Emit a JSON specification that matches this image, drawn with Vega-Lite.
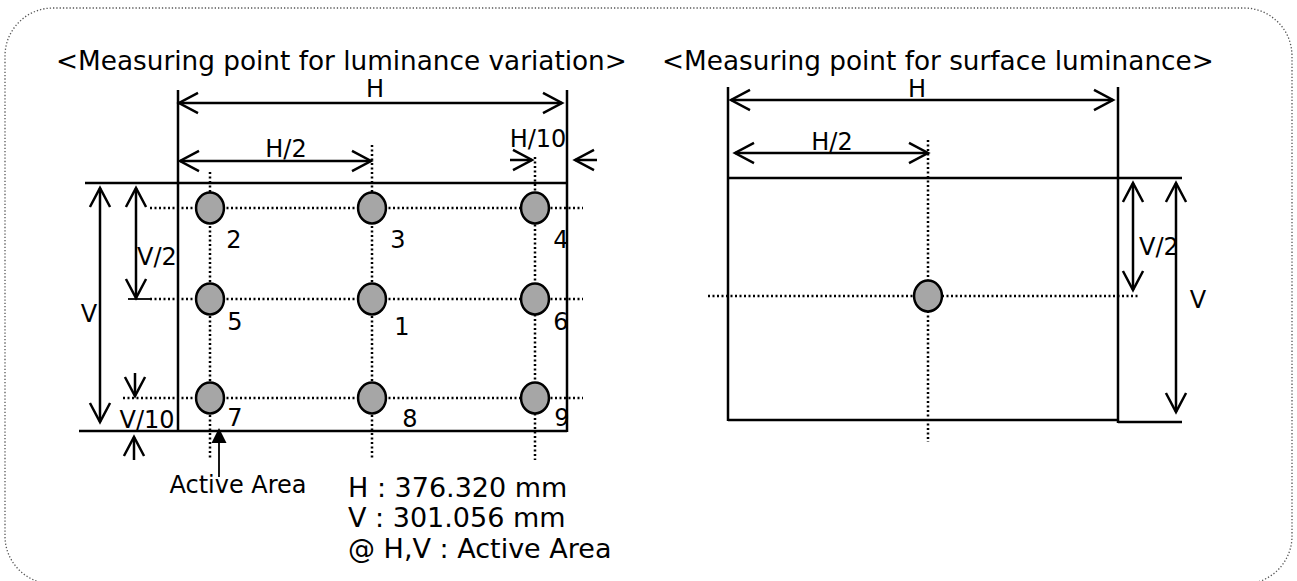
{
  "$schema": "https://vega.github.io/schema/vega-lite/v6.json",
  "width": 1297,
  "height": 581,
  "autosize": {"type": "none"},
  "padding": 0,
  "background": "white",
  "config": {"view": {"stroke": null}},
  "datasets": {
    "border": [{"x": 5, "y": 8, "x2": 1292, "y2": 584}],
    "dotted": [
      {"x": 150, "y": 208, "x2": 583, "y2": 208},
      {"x": 150, "y": 299, "x2": 583, "y2": 299},
      {"x": 123, "y": 398, "x2": 583, "y2": 398},
      {"x": 210, "y": 172, "x2": 210, "y2": 460},
      {"x": 372, "y": 145, "x2": 372, "y2": 460},
      {"x": 535, "y": 157, "x2": 535, "y2": 460},
      {"x": 708, "y": 296, "x2": 1138, "y2": 296},
      {"x": 928, "y": 140, "x2": 928, "y2": 442}
    ],
    "solid": [
      {"x": 178, "y": 90, "x2": 178, "y2": 432},
      {"x": 567, "y": 90, "x2": 567, "y2": 432},
      {"x": 85, "y": 183, "x2": 567, "y2": 183},
      {"x": 79, "y": 431, "x2": 567, "y2": 431},
      {"x": 728, "y": 87, "x2": 728, "y2": 421},
      {"x": 1118, "y": 87, "x2": 1118, "y2": 423},
      {"x": 728, "y": 178, "x2": 1182, "y2": 178},
      {"x": 728, "y": 420, "x2": 1118, "y2": 420},
      {"x": 1118, "y": 422, "x2": 1182, "y2": 422},
      {"x": 179, "y": 103, "x2": 562, "y2": 103},
      {"x": 180, "y": 161, "x2": 371, "y2": 161},
      {"x": 510, "y": 160, "x2": 532, "y2": 160},
      {"x": 575, "y": 160, "x2": 597, "y2": 160},
      {"x": 100, "y": 188, "x2": 100, "y2": 422},
      {"x": 136, "y": 188, "x2": 136, "y2": 298},
      {"x": 135, "y": 373, "x2": 135, "y2": 396},
      {"x": 134, "y": 437, "x2": 134, "y2": 460},
      {"x": 731, "y": 100, "x2": 1113, "y2": 100},
      {"x": 735, "y": 153, "x2": 928, "y2": 153},
      {"x": 1133, "y": 183, "x2": 1133, "y2": 290},
      {"x": 1176, "y": 183, "x2": 1176, "y2": 412}
    ],
    "thin": [
      {"x": 128, "y": 299, "x2": 150, "y2": 299},
      {"x": 219, "y": 443, "x2": 219, "y2": 477}
    ],
    "heads": [
      {"x": 179, "y": 103, "dir": "left"},
      {"x": 562, "y": 103, "dir": "right"},
      {"x": 180, "y": 161, "dir": "left"},
      {"x": 371, "y": 161, "dir": "right"},
      {"x": 532, "y": 160, "dir": "right"},
      {"x": 575, "y": 160, "dir": "left"},
      {"x": 100, "y": 188, "dir": "up"},
      {"x": 100, "y": 422, "dir": "down"},
      {"x": 136, "y": 188, "dir": "up"},
      {"x": 136, "y": 298, "dir": "down"},
      {"x": 135, "y": 396, "dir": "down"},
      {"x": 134, "y": 437, "dir": "up"},
      {"x": 731, "y": 100, "dir": "left"},
      {"x": 1113, "y": 100, "dir": "right"},
      {"x": 735, "y": 153, "dir": "left"},
      {"x": 928, "y": 153, "dir": "right"},
      {"x": 1133, "y": 183, "dir": "up"},
      {"x": 1133, "y": 290, "dir": "down"},
      {"x": 1176, "y": 183, "dir": "up"},
      {"x": 1176, "y": 412, "dir": "down"}
    ],
    "pointer": [{"x": 219, "y": 435.5}],
    "circles": [
      {"x": 210, "y": 208, "n": 2},
      {"x": 372, "y": 208, "n": 3},
      {"x": 535, "y": 208, "n": 4},
      {"x": 210, "y": 299, "n": 5},
      {"x": 372, "y": 299, "n": 1},
      {"x": 535, "y": 299, "n": 6},
      {"x": 210, "y": 398, "n": 7},
      {"x": 372, "y": 398, "n": 8},
      {"x": 535, "y": 398, "n": 9},
      {"x": 928, "y": 296, "n": 0}
    ],
    "labels": [
      {"x": 375, "y": 97, "t": "H"},
      {"x": 286, "y": 157, "t": "H/2"},
      {"x": 538, "y": 147, "t": "H/10"},
      {"x": 89, "y": 322, "t": "V"},
      {"x": 157, "y": 265, "t": "V/2"},
      {"x": 147, "y": 428, "t": "V/10"},
      {"x": 234, "y": 248, "t": "2"},
      {"x": 398, "y": 248, "t": "3"},
      {"x": 561, "y": 248, "t": "4"},
      {"x": 235, "y": 330, "t": "5"},
      {"x": 402, "y": 335, "t": "1"},
      {"x": 561, "y": 330, "t": "6"},
      {"x": 235, "y": 426, "t": "7"},
      {"x": 410, "y": 427, "t": "8"},
      {"x": 562, "y": 426, "t": "9"},
      {"x": 238, "y": 493, "t": "Active Area"},
      {"x": 917, "y": 97, "t": "H"},
      {"x": 832, "y": 150, "t": "H/2"},
      {"x": 1159, "y": 255, "t": "V/2"},
      {"x": 1198, "y": 308, "t": "V"}
    ],
    "titles": [
      {"x": 56, "y": 70, "t": "<Measuring point for luminance variation>"},
      {"x": 662, "y": 70, "t": "<Measuring point for surface luminance>"}
    ],
    "notes": [
      {"x": 348, "y": 497, "t": "H : 376.320 mm"},
      {"x": 348, "y": 527, "t": "V : 301.056 mm"},
      {"x": 348, "y": 558, "t": "@ H,V : Active Area"}
    ]
  },
  "encoding": {
    "x": {"field": "x", "type": "quantitative", "scale": {"domain": [0, 1297], "nice": false, "zero": false}, "axis": null},
    "y": {"field": "y", "type": "quantitative", "scale": {"domain": [0, 581], "nice": false, "zero": false, "reverse": true}, "axis": null}
  },
  "layer": [
    {
      "data": {"name": "border"},
      "mark": {"type": "rect", "filled": false, "cornerRadius": 48, "stroke": "#555555", "strokeWidth": 1.3, "strokeDash": [1.3, 2]},
      "encoding": {"x2": {"field": "x2"}, "y2": {"field": "y2"}}
    },
    {
      "data": {"name": "dotted"},
      "mark": {"type": "rule", "color": "black", "strokeWidth": 2.5, "strokeDash": [2, 2.5]},
      "encoding": {"x2": {"field": "x2"}, "y2": {"field": "y2"}}
    },
    {
      "data": {"name": "solid"},
      "mark": {"type": "rule", "color": "black", "strokeWidth": 2.5},
      "encoding": {"x2": {"field": "x2"}, "y2": {"field": "y2"}}
    },
    {
      "data": {"name": "thin"},
      "mark": {"type": "rule", "color": "black", "strokeWidth": 1.8},
      "encoding": {"x2": {"field": "x2"}, "y2": {"field": "y2"}}
    },
    {
      "data": {"name": "heads"},
      "mark": {"type": "point", "filled": false, "stroke": "black", "strokeWidth": 2.5, "opacity": 1, "size": 1444},
      "encoding": {
        "shape": {
          "field": "dir",
          "type": "nominal",
          "scale": {
            "domain": ["left", "right", "up", "down"],
            "range": ["M1,-0.53L0,0L1,0.53", "M-1,-0.53L0,0L-1,0.53", "M-0.53,1L0,0L0.53,1", "M-0.53,-1L0,0L0.53,-1"]
          },
          "legend": null
        }
      }
    },
    {
      "data": {"name": "pointer"},
      "mark": {"type": "point", "shape": "M0,-1L1,1L-1,1Z", "filled": true, "fill": "black", "stroke": null, "opacity": 1, "size": 225}
    },
    {
      "data": {"name": "circles"},
      "mark": {"type": "point", "shape": "M0,-1A0.9,1 0 1,1 0,1A0.9,1 0 1,1 0,-1Z", "filled": true, "fill": "#a6a6a6", "stroke": "black", "strokeWidth": 2.5, "opacity": 1, "size": 961}
    },
    {
      "data": {"name": "labels"},
      "mark": {"type": "text", "align": "center", "baseline": "alphabetic", "font": "DejaVu Sans", "fontSize": 24, "color": "black"},
      "encoding": {"text": {"field": "t"}}
    },
    {
      "data": {"name": "titles"},
      "mark": {"type": "text", "align": "left", "baseline": "alphabetic", "font": "DejaVu Sans", "fontSize": 26.3, "color": "black"},
      "encoding": {"text": {"field": "t"}}
    },
    {
      "data": {"name": "notes"},
      "mark": {"type": "text", "align": "left", "baseline": "alphabetic", "font": "DejaVu Sans", "fontSize": 27, "color": "black"},
      "encoding": {"text": {"field": "t"}}
    }
  ]
}
